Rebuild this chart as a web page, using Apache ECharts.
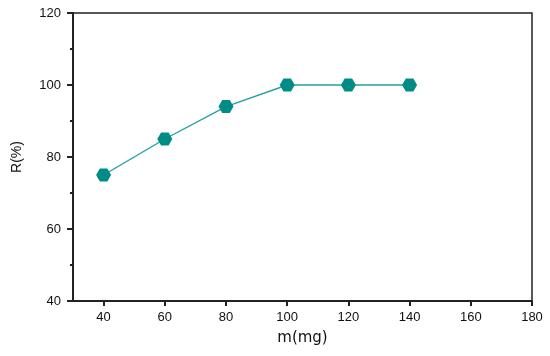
<!DOCTYPE html>
<html><head><meta charset="utf-8">
<script src="https://cdn.jsdelivr.net/npm/echarts@6/dist/echarts.min.js"></script>
<style>html,body{margin:0;padding:0;background:#fff}#c{width:550px;height:356px}</style>
</head><body><div id="c"></div>
<script>
const xValues = [40, 60, 80, 100, 120, 140];
const rValues = [75, 85, 94, 100, 100, 100];
const xTicks = [40, 60, 80, 100, 120, 140, 160, 180];
const chart = echarts.init(document.getElementById('c'));
const font = 'Liberation Sans, Arial, sans-serif';
chart.setOption({
  animation: false,
  grid: {left: 73, right: 18, top: 13, bottom: 55, show: true, borderColor: '#222', borderWidth: 1.5, backgroundColor: 'transparent'},
  xAxis: {
    type: 'value', min: 30, max: 180, interval: 20,
    name: 'm(mg)', nameLocation: 'middle', nameGap: 30,
    nameTextStyle: {fontFamily: 'DejaVu Sans, sans-serif', fontSize: 15, color: '#111'},
    axisLine: {show: true, lineStyle: {color: '#222', width: 2}},
    axisTick: {show: true, inside: false, length: 5, lineStyle: {color: '#222', width: 2}, customValues: xTicks},
    minorTick: {show: true, splitNumber: 2, length: 3, lineStyle: {color: '#222', width: 2}},
    axisLabel: {fontFamily: font, fontSize: 13, color: '#111', margin: 10, customValues: xTicks},
    splitLine: {show: false}
  },
  yAxis: {
    type: 'value', min: 40, max: 120, interval: 20,
    name: 'R(%)', nameLocation: 'middle', nameGap: 49, nameRotate: 90,
    nameTextStyle: {fontFamily: font, fontSize: 14, color: '#111'},
    axisLine: {show: true, lineStyle: {color: '#222', width: 2}},
    axisTick: {show: true, inside: false, length: 6, lineStyle: {color: '#222', width: 2}},
    minorTick: {show: true, splitNumber: 2, length: 3, lineStyle: {color: '#222', width: 2}},
    axisLabel: {fontFamily: font, fontSize: 13, color: '#111', margin: 12},
    splitLine: {show: false}
  },
  series: [{
    type: 'line',
    data: xValues.map((x, i) => [x, rValues[i]]),
    symbol: 'path://M-1,0 L-0.5,-0.866 L0.5,-0.866 L1,0 L0.5,0.866 L-0.5,0.866 Z',
    symbolSize: [15, 13],
    itemStyle: {color: '#008b87'},
    lineStyle: {color: '#1fa3a0', width: 1.4}
  }]
});
</script></body></html>
